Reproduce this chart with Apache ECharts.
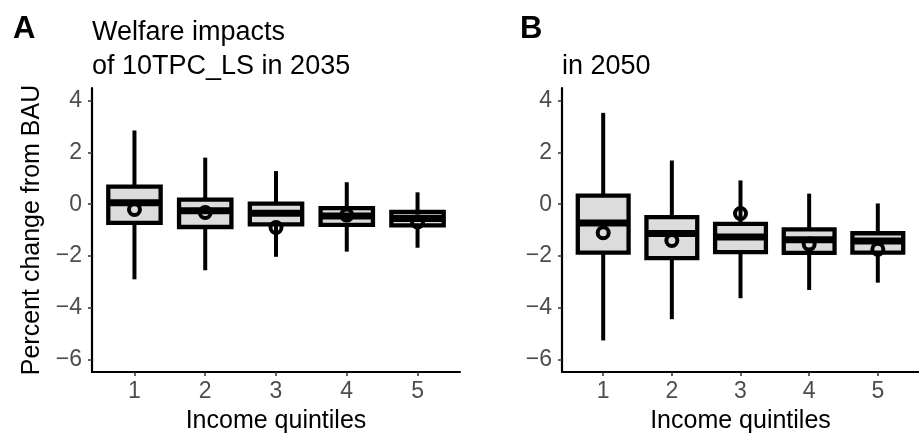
<!DOCTYPE html>
<html>
<head>
<meta charset="utf-8">
<title>Welfare impacts</title>
<script src="https://cdn.jsdelivr.net/npm/echarts@6/dist/echarts.min.js"></script>
<style>
  html, body { margin: 0; padding: 0; background: #fff; }
  #chart { width: 919px; height: 439px; }
</style>
</head>
<body>
<div id="chart"></div>
<script>
// 收入五分位
var quintiles = [1, 2, 3, 4, 5]
var yTicks = [-6, -4, -2, 0, 2, 4]

// 2035 (A)
var low2035 = [-2.9, -2.55, -2.03, -1.83, -1.68]
var q1_2035 = [-0.72, -0.88, -0.78, -0.8, -0.82]
var median2035 = [0.06, -0.25, -0.35, -0.45, -0.55]
var q3_2035 = [0.68, 0.18, 0.02, -0.15, -0.3]
var high2035 = [2.85, 1.8, 1.28, 0.85, 0.46]
var mean2035 = [-0.2, -0.32, -0.9, -0.42, -0.68]

// 2050 (B)
var low2050 = [-5.26, -4.44, -3.63, -3.31, -3.03]
var q1_2050 = [-1.87, -2.08, -1.85, -1.88, -1.87]
var median2050 = [-0.72, -1.13, -1.27, -1.37, -1.42]
var q3_2050 = [0.33, -0.5, -0.76, -0.97, -1.12]
var high2050 = [3.53, 1.69, 0.92, 0.41, 0.03]
var mean2050 = [-1.1, -1.4, -0.36, -1.54, -1.74]

var font = 'Liberation Sans, Arial, Helvetica, sans-serif'

function boxRows (low, q1, med, q3, high) {
  return quintiles.map(function (q, i) {
    return [q, low[i], q1[i], med[i], q3[i], high[i]]
  })
}

function meanRows (mean) {
  return quintiles.map(function (q, i) {
    return [q, mean[i]]
  })
}

// 画箱线图 (没有须线端帽)
function renderBox (params, api) {
  var x = api.value(0)
  var lo = api.coord([x, api.value(1)])
  var q1 = api.coord([x, api.value(2)])
  var md = api.coord([x, api.value(3)])
  var q3 = api.coord([x, api.value(4)])
  var hi = api.coord([x, api.value(5)])
  var half = api.size([0.37, 0])[0]
  var cx = lo[0]
  var line = { stroke: '#000', lineWidth: 4, lineCap: 'butt' }
  return {
    type: 'group',
    children: [
      { type: 'line', shape: { x1: cx, y1: lo[1], x2: cx, y2: q1[1] }, style: line },
      { type: 'line', shape: { x1: cx, y1: q3[1], x2: cx, y2: hi[1] }, style: line },
      {
        type: 'rect',
        shape: { x: cx - half, y: q3[1], width: half * 2, height: q1[1] - q3[1] },
        style: { fill: '#dcdcdc', stroke: '#000', lineWidth: 4.3 }
      },
      {
        type: 'line',
        shape: { x1: cx - half, y1: md[1], x2: cx + half, y2: md[1] },
        style: { stroke: '#000', lineWidth: 7, lineCap: 'butt' }
      }
    ]
  }
}

function xAxisFor (idx) {
  return {
    type: 'value',
    gridIndex: idx,
    min: 0.4,
    max: 5.6,
    name: 'Income quintiles',
    nameLocation: 'middle',
    nameGap: 37,
    nameTextStyle: { color: '#000', fontSize: 25, fontFamily: font },
    splitLine: { show: false },
    axisLine: { show: true, onZero: false, lineStyle: { color: '#000', width: 2.2 } },
    axisTick: { show: true, length: 4, customValues: quintiles, lineStyle: { color: '#333', width: 1.5 } },
    axisLabel: { customValues: quintiles, margin: 8, color: '#4d4d4d', fontSize: 23, fontFamily: font }
  }
}

function yAxisFor (idx, title) {
  return {
    type: 'value',
    gridIndex: idx,
    min: -6.48,
    max: 4.49,
    name: title,
    nameLocation: 'middle',
    nameGap: 47,
    nameTextStyle: { color: '#000', fontSize: 25, fontFamily: font },
    splitLine: { show: false },
    axisLine: { show: true, onZero: false, lineStyle: { color: '#000', width: 2.2 } },
    axisTick: { show: true, length: 4, customValues: yTicks, lineStyle: { color: '#333', width: 1.5 } },
    axisLabel: {
      customValues: yTicks,
      margin: 10,
      color: '#4d4d4d',
      fontSize: 23,
      fontFamily: font,
      formatter: function (v) { return String(v).replace('-', '\u2212') }
    }
  }
}

var chart = echarts.init(document.getElementById('chart'))
chart.setOption({
  animation: false,
  backgroundColor: '#fff',
  title: [
    { text: 'A', left: 8, top: 9, textStyle: { fontSize: 31, fontWeight: 'bold', color: '#000', fontFamily: font } },
    { text: 'B', left: 515, top: 9, textStyle: { fontSize: 31, fontWeight: 'bold', color: '#000', fontFamily: font } },
    {
      text: 'Welfare impacts\nof 10TPC_LS in 2035',
      left: 87,
      top: 11,
      textStyle: { fontSize: 27, fontWeight: 'normal', color: '#000', lineHeight: 34, fontFamily: font }
    },
    {
      text: 'in 2050',
      left: 557,
      top: 45,
      textStyle: { fontSize: 27, fontWeight: 'normal', color: '#000', lineHeight: 34, fontFamily: font }
    }
  ],
  grid: [
    { left: 92, top: 88, width: 368, height: 285 },
    { left: 562, top: 88, width: 368, height: 285 }
  ],
  xAxis: [xAxisFor(0), xAxisFor(1)],
  yAxis: [yAxisFor(0, 'Percent change from BAU'), yAxisFor(1, '')],
  series: [
    {
      type: 'custom',
      xAxisIndex: 0,
      yAxisIndex: 0,
      renderItem: renderBox,
      encode: { x: 0, y: [1, 2, 3, 4, 5] },
      data: boxRows(low2035, q1_2035, median2035, q3_2035, high2035)
    },
    {
      type: 'custom',
      xAxisIndex: 1,
      yAxisIndex: 1,
      renderItem: renderBox,
      encode: { x: 0, y: [1, 2, 3, 4, 5] },
      data: boxRows(low2050, q1_2050, median2050, q3_2050, high2050)
    },
    {
      type: 'scatter',
      xAxisIndex: 0,
      yAxisIndex: 0,
      symbol: 'circle',
      symbolSize: 11,
      z: 5,
      itemStyle: { color: 'rgba(0,0,0,0)', borderColor: '#000', borderWidth: 4, opacity: 1 },
      data: meanRows(mean2035)
    },
    {
      type: 'scatter',
      xAxisIndex: 1,
      yAxisIndex: 1,
      symbol: 'circle',
      symbolSize: 11,
      z: 5,
      itemStyle: { color: 'rgba(0,0,0,0)', borderColor: '#000', borderWidth: 4, opacity: 1 },
      data: meanRows(mean2050)
    }
  ]
})
</script>
</body>
</html>
